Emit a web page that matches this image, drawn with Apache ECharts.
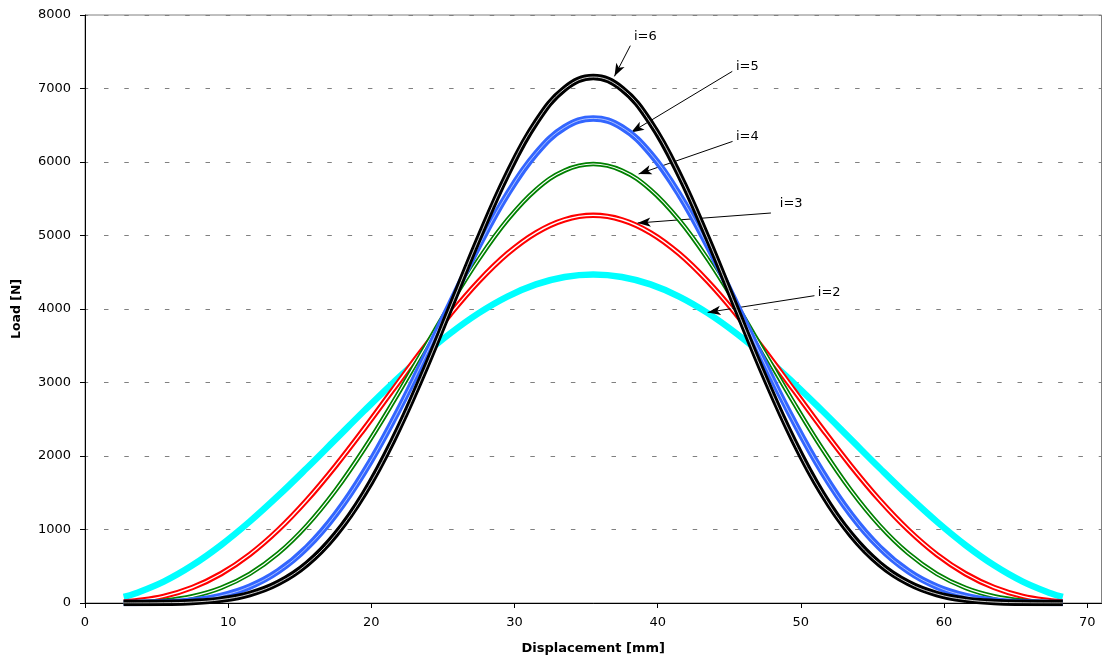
<!DOCTYPE html>
<html><head><meta charset="utf-8">
<script src="https://cdn.jsdelivr.net/npm/echarts@6/dist/echarts.min.js"></script>
<style>html,body{margin:0;padding:0;background:#fff}#c{width:1103px;height:662px}</style>
</head><body><div id="c"></div>
<script>
// ---- data ----
const displacement = [2.7, 3.5, 5.5, 7.5, 9.5, 11.5, 13.5, 15.5, 17.5, 19.5, 21.5, 23.5, 25.5, 27.5, 29.5, 31.5, 33.5, 35.5, 37.5, 39.5, 41.5, 43.5, 45.5, 47.5, 49.5, 51.5, 53.5, 55.5, 57.5, 59.5, 61.5, 63.5, 65.5, 67.5, 68.3];
const load_i2 = [82, 129, 291, 513, 788, 1107, 1460, 1837, 2226, 2615, 2992, 3347, 3667, 3944, 4169, 4335, 4436, 4470, 4436, 4335, 4169, 3944, 3667, 3347, 2992, 2615, 2226, 1837, 1460, 1107, 788, 513, 291, 129, 82];
const load_i3 = [14, 28, 91, 211, 398, 659, 995, 1401, 1865, 2371, 2899, 3426, 3926, 4376, 4753, 5037, 5214, 5274, 5214, 5037, 4753, 4376, 3926, 3426, 2899, 2371, 1865, 1401, 995, 659, 398, 211, 91, 28, 14];
const load_i4 = [3, 7, 31, 91, 206, 396, 676, 1055, 1532, 2097, 2727, 3393, 4057, 4677, 5211, 5624, 5884, 5973, 5884, 5624, 5211, 4677, 4057, 3393, 2727, 2097, 1532, 1055, 676, 396, 206, 91, 31, 7, 3];
const load_i5 = [0, 1, 9, 35, 98, 222, 433, 755, 1204, 1782, 2475, 3252, 4065, 4856, 5560, 6115, 6471, 6593, 6471, 6115, 5560, 4856, 4065, 3252, 2475, 1782, 1204, 755, 433, 222, 98, 35, 9, 1, 0];
const load_i6 = [0, 0, 3, 13, 46, 122, 273, 531, 930, 1488, 2208, 3064, 4006, 4958, 5832, 6538, 6997, 7156, 6997, 6538, 5832, 4958, 4006, 3064, 2208, 1488, 930, 531, 273, 122, 46, 13, 3, 0, 0];
const seriesNames = ['i=2', 'i=3', 'i=4', 'i=5', 'i=6'];
const xTickValues = [0, 10, 20, 30, 40, 50, 60, 70];
const xAxisTitle = 'Displacement [mm]';
const yAxisTitle = 'Load [N]';

// ---- annotation placement (data units) ----
const annotations = [
  {text: 'i=6', label: [39.14, 7705], from: [38.09, 7583], to: [36.98, 7165]},
  {text: 'i=5', label: [46.26, 7296], from: [45.21, 7233], to: [38.14, 6403]},
  {text: 'i=4', label: [46.26, 6344], from: [45.23, 6280], to: [38.67, 5837]},
  {text: 'i=3', label: [49.33, 5433], from: [47.91, 5306], to: [38.60, 5170]},
  {text: 'i=2', label: [51.98, 4222], from: [50.95, 4181], to: [43.49, 3954]}
];

const FONT = 'DejaVu Sans';
const curves = [
  {data: load_i2, color: '#00FFFF', width: 6.5, gap: 0},
  {data: load_i3, color: '#FF0000', width: 5.5, gap: 1.4},
  {data: load_i4, color: '#008000', width: 4.6, gap: 1.2},
  {data: load_i5, color: '#3366FF', width: 6.5, gap: 0.6},
  {data: load_i6, color: '#000000', width: 6.5, gap: 0.8}
];
function pairs(ys) { return displacement.map((x, k) => [x, ys[k]]); }

const series = [];
curves.forEach((c, k) => {
  series.push({
    name: seriesNames[k], type: 'line', data: pairs(c.data), showSymbol: false, smooth: 0.4,
    lineStyle: {color: c.color, width: c.width}, silent: true, z: 2 + k * 2
  });
  if (c.gap > 0) {
    series.push({
      name: seriesNames[k] + ' b', type: 'line', data: pairs(c.data), showSymbol: false, smooth: 0.4,
      lineStyle: {color: '#FFFFFF', width: c.gap}, silent: true, z: 3 + k * 2
    });
  }
});
series.push({
  name: 'annotations', type: 'line', data: [], silent: true, z: 20,
  markLine: {
    silent: true, animation: false,
    lineStyle: {color: '#000', width: 1, type: 'solid'},
    label: {show: false},
    data: annotations.map(a => [
      {coord: a.from, symbol: 'none'},
      {coord: a.to, symbol: 'arrow', symbolSize: [7, 13]}
    ])
  },
  markPoint: {
    silent: true, animation: false, symbol: 'circle', symbolSize: 1,
    itemStyle: {color: 'rgba(0,0,0,0)'},
    label: {show: true, position: 'inside', formatter: '{b}', color: '#000', fontSize: 13, fontFamily: FONT},
    data: annotations.map(a => ({name: a.text, coord: a.label}))
  }
});

const chart = echarts.init(document.getElementById('c'));
chart.setOption({
  animation: false,
  backgroundColor: '#fff',
  grid: {left: 85, right: 1.5, top: 15, bottom: 59, show: true, borderColor: '#808080', borderWidth: 1},
  xAxis: {
    type: 'value', min: 0, max: 71, interval: 10,
    name: xAxisTitle, nameLocation: 'middle', nameGap: 39,
    nameTextStyle: {fontFamily: FONT, fontWeight: 'bold', fontSize: 13, color: '#000'},
    axisLine: {show: true, onZero: false, lineStyle: {color: '#000', width: 1}},
    axisTick: {show: true, length: 5, customValues: xTickValues, lineStyle: {color: '#000'}},
    axisLabel: {customValues: xTickValues, margin: 13, fontFamily: FONT, fontSize: 13, color: '#000',
      formatter: v => String(v)},
    splitLine: {show: false}
  },
  yAxis: {
    type: 'value', min: 0, max: 8000, interval: 1000,
    name: yAxisTitle, nameLocation: 'middle', nameGap: 62, nameRotate: 90,
    nameTextStyle: {fontFamily: FONT, fontWeight: 'bold', fontSize: 12.5, color: '#000'},
    axisLine: {show: true, lineStyle: {color: '#000', width: 1}},
    axisTick: {show: true, length: 5, lineStyle: {color: '#000'}},
    axisLabel: {margin: 14, fontFamily: FONT, fontSize: 13, color: '#000', formatter: v => String(v)},
    splitLine: {show: true, lineStyle: {color: '#808080', width: 1, type: [4.5, 15.8], dashOffset: 1.3}}
  },
  series: series
});
</script>
</body></html>
